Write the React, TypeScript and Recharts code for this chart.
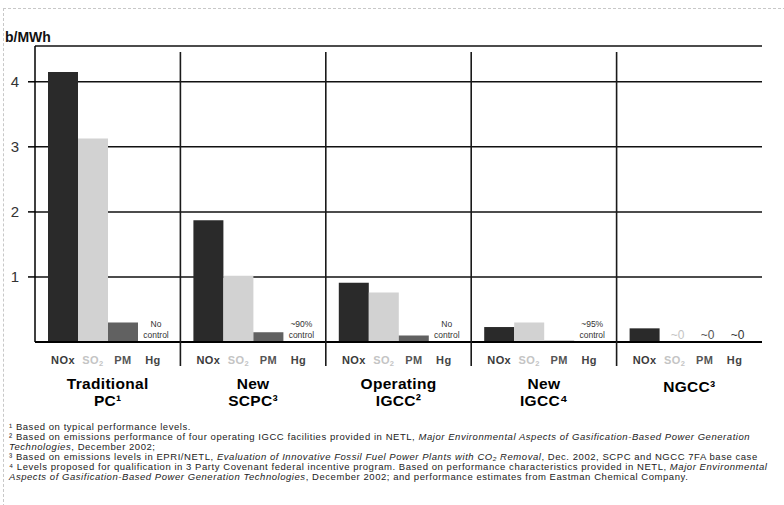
import React from "react"
import { BarChart, Bar, XAxis, YAxis, CartesianGrid, LabelList } from "recharts"

// values (lb/MWh)
const groupLines = [["Traditional", "PC¹"], ["New", "SCPC³"], ["Operating", "IGCC²"], ["New", "IGCC⁴"], ["NGCC³"]]
const noxValues = [4.15, 1.87, 0.91, 0.23, 0.21]
const so2Values = [3.13, 1.02, 0.76, 0.30, 0]
const pmValues = [0.30, 0.15, 0.10, 0.02, 0]
const hgValues = [0, 0, 0, 0, 0]
const so2Notes = ["", "", "", "", "~0"]
const pmNotes = ["", "", "", "", "~0"]
const hgNotes = [["No", "control"], ["~90%", "control"], ["No", "control"], ["~95%", "control"], ["~0"]]
const yTicks = [1, 2, 3, 4]

const footnotes = [
  [{ t: "¹ Based on typical performance levels." }],
  [{ t: "² Based on emissions performance of four operating IGCC facilities provided in NETL, " }, { t: "Major Environmental Aspects of Gasification-Based Power Generation", i: true }],
  [{ t: "Technologies", i: true }, { t: ", December 2002;" }],
  [{ t: "³ Based on emissions levels in EPRI/NETL, " }, { t: "Evaluation of Innovative Fossil Fuel Power Plants with CO₂ Removal", i: true }, { t: ", Dec. 2002, SCPC and NGCC 7FA base case" }],
  [{ t: "⁴ Levels proposed for qualification in 3 Party Covenant federal incentive program. Based on performance characteristics provided in NETL, " }, { t: "Major Environmental", i: true }],
  [{ t: "Aspects of Gasification-Based Power Generation Technologies", i: true }, { t: ", December 2002; and performance estimates from Eastman Chemical Company." }],
]
const footTops = [422, 432, 442, 452, 462, 472]

const data = groupLines.map((g, i) => ({
  group: g.join(" "),
  NOx: noxValues[i], SO2: so2Values[i], PM: pmValues[i], Hg: hgValues[i],
  so2Note: so2Notes[i], pmNote: pmNotes[i], hgNote: hgNotes[i].join("|"),
}))

const W = 784
const H = 505
const PLOT_TOP = 46
const PLOT_LEFT = 35
const PLOT_RIGHT = 762
const BASE = 342
const FONT = "'Liberation Sans', Arial, sans-serif"

const pollutantLabel = (name: string, color: string) => (p: any) => {
  const cx = p.x + p.width / 2
  const y = p.y + p.height + 22
  return (
    <text x={cx} y={y} textAnchor="middle" fontSize={11} fontWeight="bold" fill={color} fontFamily={FONT} letterSpacing={0.4}>
      {name === "SO2" ? <>SO<tspan fontSize={7.5} dy={2}>2</tspan></> : name}
    </text>
  )
}

const noteLabel = (color: string) => (p: any) => {
  if (!p.value) return null
  const lines = String(p.value).split("|")
  const cx = p.x + p.width / 2 + 3
  const bottom = p.y + p.height
  const single = lines.length === 1
  return (
    <text textAnchor="middle" fontSize={single ? 12 : 8.5} fill={color} fontFamily={FONT}>
      {lines.map((l, k) => (
        <tspan key={k} x={cx} y={bottom - (single ? 3 : 4) - (lines.length - 1 - k) * 11}>{l}</tspan>
      ))}
    </text>
  )
}

const GroupTick = (props: any) => {
  const { x, payload, index } = props
  const lines = groupLines[index] || []
  const half = payload && payload.offset ? payload.offset : (PLOT_RIGHT - PLOT_LEFT) / 10
  const single = lines.length === 1
  return (
    <g>
      {index < groupLines.length - 1 && (
        <line x1={x + half} x2={x + half} y1={PLOT_TOP + 6} y2={BASE + 24} stroke="#1a1a1a" strokeWidth={1.6} />
      )}
      <text textAnchor="middle" fontSize={15.5} fontWeight="bold" fill="#000" fontFamily={FONT} letterSpacing={0.3}>
        {lines.map((l, k) => (
          <tspan key={k} x={x} y={(single ? BASE + 50 : BASE + 47) + k * 17}>{l}</tspan>
        ))}
      </text>
    </g>
  )
}

export default function App() {
  return (
    <div style={{ position: "absolute", left: 0, top: 0, width: W, height: H, background: "#fff", overflow: "hidden", fontFamily: FONT }}>
      <div style={{ position: "absolute", left: 3, top: 8, right: -2, bottom: -2, borderTop: "1px dashed #c8c8c8", borderLeft: "1px dashed #c8c8c8" }} />
      <div style={{ position: "absolute", left: 5, top: 29, fontSize: 14, fontWeight: "bold", color: "#111" }}>b/MWh</div>
      <BarChart
        width={W}
        height={H}
        data={data}
        margin={{ top: PLOT_TOP, right: W - PLOT_RIGHT, left: 5, bottom: H - BASE - 70 }}
        barGap={0}
        barSize={30}
      >
        <CartesianGrid vertical={false} stroke="#111" strokeWidth={1.5} />
        <XAxis dataKey="group" height={70} tickLine={false} axisLine={{ stroke: "#000", strokeWidth: 2 }} tick={<GroupTick />} interval={0} />
        <YAxis
          width={30}
          domain={[0, 4.55]}
          ticks={yTicks}
          tickSize={7}
          tickMargin={9}
          tickLine={{ stroke: "#000", strokeWidth: 1.5 }}
          axisLine={{ stroke: "#000", strokeWidth: 1.5 }}
          tick={{ fontSize: 15, fill: "#333", fontFamily: FONT }}
        />
        <Bar dataKey="NOx" fill="#2a2a2a" isAnimationActive={false}>
          <LabelList dataKey="NOx" content={pollutantLabel("NOx", "#3a3a3a")} />
        </Bar>
        <Bar dataKey="SO2" fill="#d2d2d2" minPointSize={1} isAnimationActive={false}>
          <LabelList dataKey="SO2" content={pollutantLabel("SO2", "#c4c4c4")} />
          <LabelList dataKey="so2Note" content={noteLabel("#c4c4c4")} />
        </Bar>
        <Bar dataKey="PM" fill="#616161" minPointSize={1} isAnimationActive={false}>
          <LabelList dataKey="PM" content={pollutantLabel("PM", "#555")} />
          <LabelList dataKey="pmNote" content={noteLabel("#555")} />
        </Bar>
        <Bar dataKey="Hg" fill="transparent" minPointSize={1} isAnimationActive={false}>
          <LabelList dataKey="Hg" content={pollutantLabel("Hg", "#444")} />
          <LabelList dataKey="hgNote" content={noteLabel("#333")} />
        </Bar>
      </BarChart>
      {footnotes.map((line, i) => (
        <div key={i} style={{ position: "absolute", left: 9, top: footTops[i], fontSize: 9.5, letterSpacing: 0.55, lineHeight: "10px", whiteSpace: "nowrap", color: "#222" }}>
          {line.map((s, k) => (
            <span key={k} style={{ fontStyle: s.i ? "italic" : "normal" }}>{s.t}</span>
          ))}
        </div>
      ))}
    </div>
  )
}
